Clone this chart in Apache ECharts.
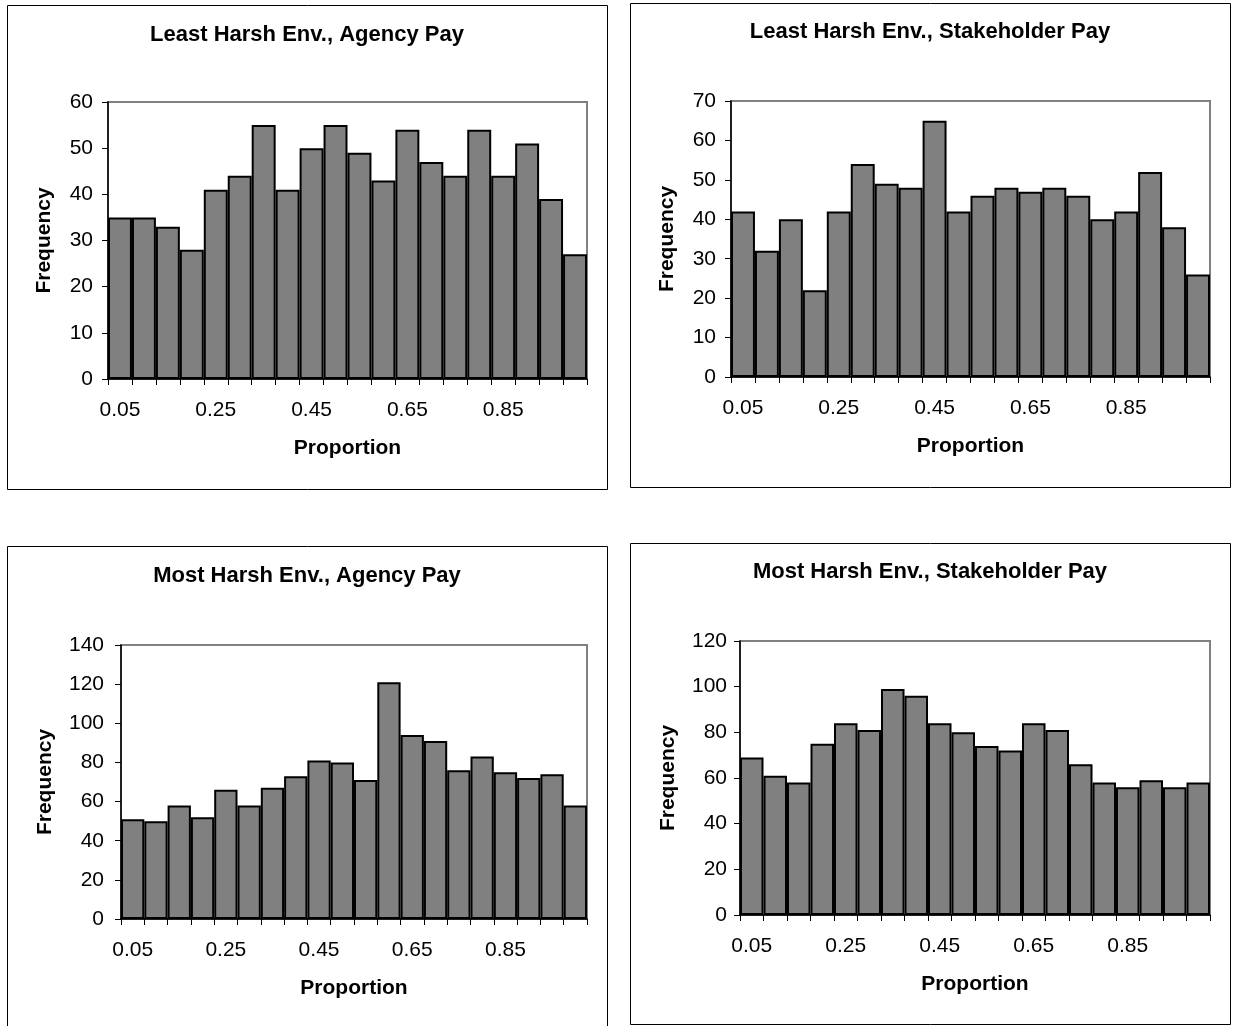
<!DOCTYPE html>
<html>
<head>
<meta charset="utf-8">
<script src="https://cdn.jsdelivr.net/npm/echarts@6/dist/echarts.min.js"></script>
<style>
html,body{margin:0;padding:0;background:#fff;}
#c{width:1233px;height:1026px;}
</style>
</head>
<body>
<div id="c"></div>
<script>
var categories = ['0.05','0.10','0.15','0.20','0.25','0.30','0.35','0.40','0.45','0.50','0.55','0.60','0.65','0.70','0.75','0.80','0.85','0.90','0.95','1.00'];
var titles = ['Least Harsh Env., Agency Pay','Least Harsh Env., Stakeholder Pay','Most Harsh Env., Agency Pay','Most Harsh Env., Stakeholder Pay'];
var leastAgency = [35,35,33,28,41,44,55,41,50,55,49,43,54,47,44,54,44,51,39,27];
var leastStake = [42,32,40,22,42,54,49,48,65,42,46,48,47,48,46,40,42,52,38,26];
var mostAgency = [51,50,58,52,66,58,67,73,81,80,71,121,94,91,76,83,75,72,74,58];
var mostStake = [69,61,58,75,84,81,99,96,84,80,74,72,84,81,66,58,56,59,56,58];
var yMax = [60,70,140,120];
var yInterval = [10,10,20,20];
var xName = 'Proportion';
var yName = 'Frequency';

var seriesData = [leastAgency, leastStake, mostAgency, mostStake];
var FONT = "'Liberation Sans', Arial, sans-serif";

// layout (pixels)
var panels = [
  {bx:7, by:5, bw:600, bh:484, gl:108, gt:102, gw:479, gh:277, tx:307, ty:35, ng:53, lm:15},
  {bx:630, by:3, bw:600, bh:484, gl:731, gt:101, gw:479, gh:276, tx:930, ty:32, ng:53, lm:15},
  {bx:7, by:546, bw:600, bh:484, gl:121, gt:645, gw:466, gh:274, tx:307, ty:576, ng:65, lm:17},
  {bx:630, by:543, bw:600, bh:481, gl:740, gt:641, gw:470, gh:274, tx:930, ty:572, ng:61, lm:13}
];

var option = {
  backgroundColor: '#fff',
  animation: false,
  title: [], grid: [], xAxis: [], yAxis: [], series: [],
  graphic: []
};

panels.forEach(function(p, i){
  option.graphic.push({
    type: 'rect', z: 0,
    shape: {x: p.bx + 0.5, y: p.by + 0.5, width: p.bw, height: p.bh},
    style: {fill: 'none', stroke: '#000', lineWidth: 1}
  });
  option.title.push({
    text: titles[i], left: p.tx, top: p.ty - 11, textAlign: 'center', padding: 0,
    textStyle: {fontFamily: FONT, fontWeight: 'bold', fontSize: 22, color: '#000'}
  });
  option.grid.push({
    left: p.gl, top: p.gt, width: p.gw, height: p.gh,
    show: true, borderColor: '#808080', borderWidth: 2, backgroundColor: '#fff'
  });
  option.xAxis.push({
    type: 'category', gridIndex: i, data: categories, boundaryGap: true,
    name: xName, nameLocation: 'middle', nameGap: 59,
    nameTextStyle: {fontFamily: FONT, fontWeight: 'bold', fontSize: 21, color: '#000'},
    axisLine: {show: true, lineStyle: {color: '#000', width: 1.5}},
    axisTick: {show: true, interval: 0, length: 6, lineStyle: {color: '#000', width: 1}},
    axisLabel: {interval: 3, margin: 21, fontFamily: FONT, fontSize: 21, color: '#000'},
    splitLine: {show: false}
  });
  option.yAxis.push({
    type: 'value', gridIndex: i, min: 0, max: yMax[i], interval: yInterval[i],
    name: yName, nameLocation: 'middle', nameGap: p.ng, nameRotate: 90,
    nameTextStyle: {fontFamily: FONT, fontWeight: 'bold', fontSize: 21, color: '#000'},
    axisLine: {show: true, lineStyle: {color: '#000', width: 1.5}},
    axisTick: {show: true, length: 6, lineStyle: {color: '#000', width: 1}},
    axisLabel: {margin: p.lm, fontFamily: FONT, fontSize: 21, color: '#000'},
    splitLine: {show: false}
  });
  option.series.push({
    type: 'bar', xAxisIndex: i, yAxisIndex: i, data: seriesData[i],
    barCategoryGap: '0%',
    itemStyle: {color: '#808080', borderColor: '#000', borderWidth: 2}
  });
});

var chart = echarts.init(document.getElementById('c'), null, {renderer: 'canvas'});
chart.setOption(option);
</script>
</body>
</html>
